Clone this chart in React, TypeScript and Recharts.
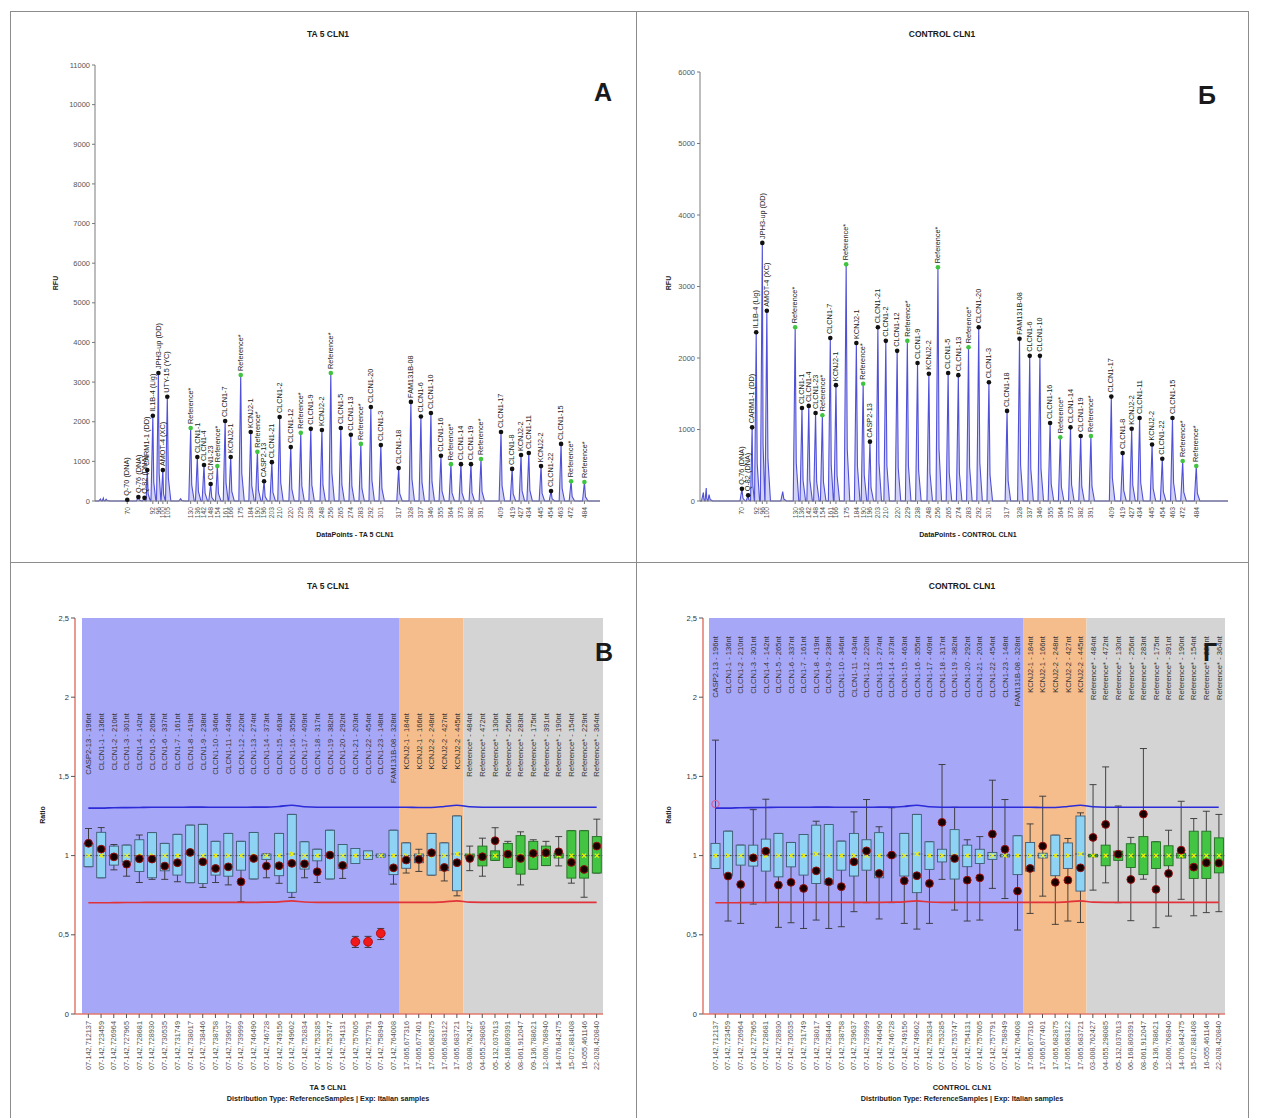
import React from 'react';
import { ComposedChart, Area, Scatter, Bar, Line, XAxis, YAxis, ReferenceArea } from 'recharts';

const FONT = '"Liberation Sans", Arial, Helvetica, sans-serif';

// ---------- electropherograms (top row) ----------
const probeSizes = [130, 136, 142, 148, 154, 161, 166, 175, 184, 190, 196, 203, 210, 220, 229, 238, 248, 256, 265, 274, 283, 292, 301, 317, 328, 337, 346, 355, 364, 373, 382, 391, 409, 419, 427, 434, 445, 454, 463, 472, 484];
const probeNames = ['Reference*', 'CLCN1-1', 'CLCN1-4', 'CLCN1-23', 'Reference*', 'CLCN1-7', 'KCNJ2-1', 'Reference*', 'KCNJ2-1', 'Reference*', 'CASP2-13', 'CLCN1-21', 'CLCN1-2', 'CLCN1-12', 'Reference*', 'CLCN1-9', 'KCNJ2-2', 'Reference*', 'CLCN1-5', 'CLCN1-13', 'Reference*', 'CLCN1-20', 'CLCN1-3', 'CLCN1-18', 'FAM131B-08', 'CLCN1-6', 'CLCN1-10', 'CLCN1-16', 'Reference*', 'CLCN1-14', 'CLCN1-19', 'Reference*', 'CLCN1-17', 'CLCN1-8', 'KCNJ2-2', 'CLCN1-11', 'KCNJ2-2', 'CLCN1-22', 'CLCN1-15', 'Reference*', 'Reference*'];
const taRfu = [1840, 1110, 910, 430, 880, 2020, 1110, 3180, 1740, 1240, 500, 980, 2120, 1360, 1720, 1820, 1790, 3230, 1840, 1670, 1440, 2370, 1410, 830, 2500, 2130, 2220, 1140, 930, 930, 930, 1060, 1740, 810, 1160, 1210, 880, 250, 1440, 500, 480];
const ctRfu = [2430, 1300, 1330, 1230, 1200, 2280, 1620, 3310, 2210, 1640, 830, 2430, 2240, 2100, 2240, 1930, 1780, 3270, 1790, 1760, 2150, 2430, 1660, 1260, 2270, 2030, 2030, 1090, 890, 1030, 910, 910, 1460, 670, 1010, 1160, 790, 590, 1160, 560, 490];

// control fragments at the start of the run
const taEarlyNames = ['Q-70 (DNA)', 'Q-76 (DNA)', 'Q-82 (DNA)', 'CARM1-1 (DD)', 'IL1B-4 (Lig)', 'JPH3-up (DD)', 'AMOT-4 (XC)', 'UTY-15 (YC)'];
const taEarlyPos = [73, 83, 88.5, 91, 96, 101, 105, 109];
const taEarlyRfu = [30, 100, 80, 780, 2150, 3230, 780, 2630];
const taEarlyTicks = ['70', '', '', '', '92', '96', '100', '105'];
const ctEarlyNames = ['Q-76 (DNA)', 'Q-82 (DNA)', 'CARM1-1 (DD)', 'IL1B-4 (Lig)', 'JPH3-up (DD)', 'AMOT-4 (XC)'];
const ctEarlyPos = [83, 88.5, 92, 95.6, 101, 105];
const ctEarlyRfu = [170, 80, 1030, 2360, 3610, 2660];
const ctEarlyTicks = ['70', '', '', '92', '96', '100'];

// small unlabeled bumps
const taNoisePos = [49, 51.5, 54, 121];
const taNoiseRfu = [50, 70, 45, 60];
const ctNoisePos = [49, 51.5, 54, 119];
const ctNoiseRfu = [120, 180, 90, 130];

const taYTicks = [0, 1000, 2000, 3000, 4000, 5000, 6000, 7000, 8000, 9000, 10000, 11000];
const ctYTicks = [0, 1000, 2000, 3000, 4000, 5000, 6000];

type Peak = { x: number; y: number; label: string; tick: string };

const makePeaks = (names: string[], pos: number[], rfu: number[], ticks: string[]): Peak[] =>
  names.map((label, i) => ({ x: pos[i], y: rfu[i], label, tick: ticks[i] }));

function buildTrace(peaks: { x: number; y: number }[], domain: [number, number]) {
  const s = [...peaks].sort((a, b) => a.x - b.x);
  const pts = [{ x: domain[0], y: 0 }];
  s.forEach((p, i) => {
    const prev = i > 0 ? s[i - 1].x : -1e9;
    const next = i < s.length - 1 ? s[i + 1].x : 1e9;
    const l = Math.min(1.7, (p.x - prev) * 0.4);
    const r = Math.min(3.2, (next - p.x) * 0.55);
    pts.push({ x: p.x - l, y: 0 }, { x: p.x, y: p.y }, { x: p.x + r * 0.3, y: p.y * 0.22 }, { x: p.x + r, y: 0 });
  });
  pts.push({ x: domain[1], y: 0 });
  return pts;
}

const PeakMark = (props: any) => {
  const { cx, cy, payload } = props;
  const isRef = String(payload.label).startsWith('Reference');
  const tx = cx + 2.2;
  const ty = cy - 4;
  return (
    <g>
      <circle cx={cx} cy={cy} r={2.3} fill={isRef ? '#3fc43f' : '#111'} />
      <text x={tx} y={ty} transform={`rotate(-90 ${tx} ${ty})`} fontSize={7.3} fill="#222" fontFamily={FONT}>
        {payload.label}
      </text>
    </g>
  );
};

function Electro(props: {
  width: number; height: number; margin: any; domain: [number, number]; yMax: number; yTicks: number[];
  peaks: Peak[]; noise: { x: number; y: number }[];
}) {
  const { width, height, margin, domain, yMax, yTicks, peaks, noise } = props;
  const trace = buildTrace([...peaks, ...noise], domain);
  const tickPeaks = peaks.filter((p) => p.tick !== '');
  const tickText: Record<string, string> = {};
  tickPeaks.forEach((p) => { tickText[String(p.x)] = p.tick; });
  const SizeTick = (tp: any) => {
    const tx = tp.x + 2.4;
    const ty = tp.y + 1;
    return (
      <text x={tx} y={ty} transform={`rotate(-90 ${tx} ${ty})`} textAnchor="end" fontSize={6.8} fill="#555" fontFamily={FONT}>
        {tickText[String(tp.payload.value)]}
      </text>
    );
  };
  return (
    <ComposedChart width={width} height={height} margin={margin}>
      <XAxis type="number" dataKey="x" domain={domain} allowDataOverflow ticks={tickPeaks.map((p) => p.x)} interval={0}
        tick={<SizeTick />} height={25} tickSize={3} stroke="#7a7a7a" />
      <YAxis type="number" domain={[0, yMax]} ticks={yTicks} interval={0} width={40} tickSize={3} stroke="#7a7a7a"
        tick={{ fontSize: 7.5, fill: '#555', fontFamily: FONT }} />
      <Area data={trace} dataKey="y" type="linear" stroke="#5050d8" strokeWidth={1.1} fill="#b4b4f0" fillOpacity={0.6}
        dot={false} activeDot={false} isAnimationActive={false} />
      <Scatter data={peaks} dataKey="y" shape={<PeakMark />} isAnimationActive={false} />
    </ComposedChart>
  );
}

// ---------- ratio plots (bottom row) ----------
const ratioCats = ['CASP2-13 - 196nt', 'CLCN1-1 - 136nt', 'CLCN1-2 - 210nt', 'CLCN1-3 - 301nt', 'CLCN1-4 - 142nt', 'CLCN1-5 - 265nt', 'CLCN1-6 - 337nt', 'CLCN1-7 - 161nt', 'CLCN1-8 - 419nt', 'CLCN1-9 - 238nt', 'CLCN1-10 - 346nt', 'CLCN1-11 - 434nt', 'CLCN1-12 - 220nt', 'CLCN1-13 - 274nt', 'CLCN1-14 - 373nt', 'CLCN1-15 - 463nt', 'CLCN1-16 - 355nt', 'CLCN1-17 - 409nt', 'CLCN1-18 - 317nt', 'CLCN1-19 - 382nt', 'CLCN1-20 - 292nt', 'CLCN1-21 - 203nt', 'CLCN1-22 - 454nt', 'CLCN1-23 - 148nt', 'FAM131B-08 - 328nt', 'KCNJ2-1 - 184nt', 'KCNJ2-1 - 166nt', 'KCNJ2-2 - 248nt', 'KCNJ2-2 - 427nt', 'KCNJ2-2 - 445nt', 'Reference* - 484nt', 'Reference* - 472nt', 'Reference* - 130nt', 'Reference* - 256nt', 'Reference* - 283nt', 'Reference* - 175nt', 'Reference* - 391nt', 'Reference* - 190nt', 'Reference* - 154nt', 'Reference* - 229nt', 'Reference* - 364nt'];
const genomicPos = ['07-142,712137', '07-142,723459', '07-142,726964', '07-142,727965', '07-142,728681', '07-142,728930', '07-142,730535', '07-142,731749', '07-142,738017', '07-142,738446', '07-142,738758', '07-142,739637', '07-142,739999', '07-142,746490', '07-142,746728', '07-142,749156', '07-142,749602', '07-142,752834', '07-142,753285', '07-142,753747', '07-142,754131', '07-142,757605', '07-142,757791', '07-142,758949', '07-142,764008', '17-065,677316', '17-065,677401', '17-065,682875', '17-065,683122', '17-065,683721', '03-008,762427', '04-055,298085', '05-132,037613', '06-168,809391', '08-061,912047', '09-136,788621', '12-006,768940', '14-076,842475', '15-072,881408', '16-055,461146', '22-028,420840'];

const limitUpper = [1.3, 1.3, 1.302, 1.303, 1.304, 1.305, 1.305, 1.305, 1.306, 1.306, 1.305, 1.305, 1.305, 1.306, 1.306, 1.31, 1.318, 1.308, 1.305, 1.305, 1.305, 1.305, 1.305, 1.305, 1.305, 1.305, 1.304, 1.304, 1.31, 1.318, 1.308, 1.305, 1.305, 1.305, 1.305, 1.305, 1.305, 1.305, 1.305, 1.305, 1.305];
const limitLower = [0.702, 0.702, 0.703, 0.704, 0.704, 0.705, 0.705, 0.705, 0.705, 0.705, 0.705, 0.705, 0.705, 0.705, 0.706, 0.708, 0.714, 0.707, 0.705, 0.705, 0.705, 0.705, 0.705, 0.705, 0.705, 0.705, 0.705, 0.705, 0.708, 0.714, 0.706, 0.705, 0.705, 0.705, 0.705, 0.705, 0.705, 0.705, 0.705, 0.705, 0.705];

// TA 5 CLN1
const taBoxHigh = [1.077, 1.147, 1.06, 1.066, 1.1, 1.145, 1.077, 1.134, 1.192, 1.197, 1.09, 1.14, 1.09, 1.146, 1.01, 1.14, 1.26, 1.087, 1.04, 1.16, 1.07, 1.045, 1.03, 1.01, 1.16, 1.08, 1.01, 1.14, 1.08, 1.25, 1.01, 1.06, 1.03, 1.077, 1.126, 1.09, 1.06, 1.015, 1.157, 1.157, 1.12];
const taBoxLow = [0.93, 0.86, 0.94, 0.96, 0.9, 0.86, 0.904, 0.877, 0.829, 0.824, 0.877, 0.87, 0.908, 0.853, 0.976, 0.873, 0.768, 0.915, 0.967, 0.853, 0.92, 0.95, 0.976, 0.99, 0.88, 0.92, 0.955, 0.877, 0.905, 0.778, 0.99, 0.935, 0.97, 0.925, 0.883, 0.914, 0.937, 0.985, 0.858, 0.858, 0.89];
const taWhiskHigh = [1.171, 1.177, 1.07, 1.066, 1.13, 1.145, 1.077, 1.134, 1.192, 1.197, 1.09, 1.14, 1.09, 1.146, 1.01, 1.14, 1.26, 1.087, 1.04, 1.16, 1.07, 0.49, 0.49, 0.54, 1.16, 1.08, 1.04, 1.14, 1.08, 1.25, 1.06, 1.11, 1.176, 1.09, 1.15, 1.1, 1.09, 1.12, 1.157, 1.157, 1.23];
const taWhiskLow = [0.93, 0.86, 0.91, 0.87, 0.83, 0.85, 0.85, 0.835, 0.829, 0.799, 0.83, 0.815, 0.709, 0.853, 0.86, 0.825, 0.736, 0.86, 0.83, 0.853, 0.856, 0.42, 0.42, 0.47, 0.82, 0.89, 0.9, 0.877, 0.84, 0.746, 0.905, 0.87, 0.97, 0.925, 0.815, 0.914, 0.937, 0.935, 0.826, 0.737, 0.89];
const taSample = [1.078, 1.041, 0.992, 0.946, 0.98, 0.978, 0.934, 0.955, 1.02, 0.961, 0.919, 0.929, 0.835, 0.982, 0.934, 0.936, 0.951, 0.948, 0.898, 1.003, 0.938, 0.456, 0.456, 0.509, 0.923, 0.972, 0.976, 1.018, 0.925, 0.955, 0.982, 0.993, 1.094, 1.009, 0.982, 1.014, 1.018, 1.024, 0.957, 0.913, 1.06];
const taMedian = [1, 1, 1, 1, 1, 1, 1, 1, 1.01, 1, 1, 1, 1, 1, 1, 1, 1.01, 1, 1, 1, 1, 1, 1, 1, 1, 1, 1, 1, 1, 1.01, 1, 1, 1, 1, 1, 1, 1, 1, 1, 1, 1];

// CONTROL CLN1
const ctBoxHigh = [1.077, 1.154, 1.066, 1.066, 1.104, 1.14, 1.083, 1.133, 1.192, 1.196, 1.091, 1.14, 1.1, 1.145, 1.008, 1.14, 1.26, 1.087, 1.04, 1.164, 1.066, 1.04, 1.02, 1.008, 1.125, 1.083, 1.015, 1.129, 1.08, 1.25, 1.008, 1.066, 1.028, 1.075, 1.12, 1.087, 1.062, 1.015, 1.154, 1.154, 1.112];
const ctBoxLow = [0.919, 0.877, 0.94, 0.934, 0.902, 0.866, 0.929, 0.877, 0.824, 0.82, 0.908, 0.871, 0.908, 0.86, 0.992, 0.871, 0.766, 0.913, 0.96, 0.852, 0.93, 0.95, 0.976, 0.992, 0.88, 0.902, 0.985, 0.873, 0.919, 0.776, 0.992, 0.936, 0.97, 0.925, 0.88, 0.919, 0.936, 0.985, 0.856, 0.856, 0.891];
const ctWhiskHigh = [1.729, 1.154, 1.066, 1.29, 1.356, 1.14, 1.083, 1.133, 1.217, 1.196, 1.091, 1.276, 1.354, 1.182, 1.302, 1.14, 1.26, 1.087, 1.575, 1.305, 1.1, 1.12, 1.476, 1.354, 1.125, 1.2, 1.375, 1.129, 1.108, 1.27, 1.448, 1.56, 1.313, 1.115, 1.676, 1.087, 1.16, 1.343, 1.234, 1.28, 1.26];
const ctWhiskLow = [0.919, 0.587, 0.572, 0.694, 0.703, 0.547, 0.576, 0.54, 0.593, 0.54, 0.551, 0.646, 0.703, 0.6, 0.703, 0.572, 0.536, 0.572, 0.85, 0.656, 0.587, 0.593, 0.793, 0.729, 0.53, 0.635, 0.744, 0.566, 0.587, 0.578, 0.782, 0.828, 0.703, 0.589, 0.851, 0.545, 0.618, 0.724, 0.62, 0.64, 0.646];
const ctSample = [1.325, 0.871, 0.818, 0.986, 1.028, 0.814, 0.831, 0.793, 0.904, 0.835, 0.804, 0.961, 1.03, 0.887, 1.003, 0.841, 0.873, 0.824, 1.21, 0.982, 0.845, 0.86, 1.136, 1.04, 0.776, 0.919, 1.06, 0.831, 0.845, 0.923, 1.115, 1.197, 1.009, 0.849, 1.262, 0.787, 0.887, 1.034, 0.927, 0.955, 0.953];
const ctMedian = [1, 1, 1, 1, 1, 1, 1, 1, 1.01, 1, 1, 1, 1, 1, 1, 1, 1.01, 1, 1, 1, 1, 1, 1, 1, 1, 1, 1, 1, 1, 1.01, 1, 1, 1, 1, 1, 1, 1, 1, 1, 1, 1];

const ratioTicks = [0, 0.5, 1, 1.5, 2, 2.5];

const makeRows = (bh: number[], bl: number[], wh: number[], wl: number[], s: number[], m: number[]) =>
  ratioCats.map((name, i) => ({
    pos: genomicPos[i],
    name,
    region: name.startsWith('Reference') ? 2 : name.startsWith('KCNJ2') ? 1 : 0,
    boxHigh: bh[i], boxLow: bl[i], wHigh: wh[i], wLow: wl[i], sample: s[i], median: m[i],
    upper: limitUpper[i], lower: limitLower[i],
    span: [Math.min(bl[i], wl[i], s[i]), Math.max(bh[i], wh[i], s[i])],
  }));

const taRows = makeRows(taBoxHigh, taBoxLow, taWhiskHigh, taWhiskLow, taSample, taMedian);
const ctRows = makeRows(ctBoxHigh, ctBoxLow, ctWhiskHigh, ctWhiskLow, ctSample, ctMedian);

const makeBoxShape = (labelTop: number) => (props: any) => {
  const { x, y, width, height, payload } = props;
  if (!payload) return null;
  const [lo, hi] = payload.span;
  const py = (v: number) => y + ((hi - v) / (hi - lo)) * height;
  const cx = x + width / 2;
  const green = payload.region === 2;
  const fill = green ? '#43c443' : '#8fd3f4';
  const stroke = green ? '#236d23' : '#3e5b72';
  const yb1 = py(payload.boxHigh);
  const yb2 = py(payload.boxLow);
  const ym = py(payload.median);
  const ys = py(payload.sample);
  const yw1 = py(payload.wHigh);
  const yw2 = py(payload.wLow);
  const lt = py(labelTop);
  const lx = cx + 2.7;
  const high = payload.sample > payload.upper;
  const low = payload.sample < payload.lower;
  return (
    <g>
      <text x={lx} y={lt} transform={`rotate(-90 ${lx} ${lt})`} textAnchor="end" fontSize={7.6} fill="#333" fontFamily={FONT}>
        {payload.name}
      </text>
      <line x1={cx} x2={cx} y1={yw1} y2={yw2} stroke="#333" strokeWidth={0.9} />
      <line x1={cx - 3.5} x2={cx + 3.5} y1={yw1} y2={yw1} stroke="#333" strokeWidth={0.9} />
      <line x1={cx - 3.5} x2={cx + 3.5} y1={yw2} y2={yw2} stroke="#333" strokeWidth={0.9} />
      <rect x={x} y={yb1} width={width} height={Math.max(yb2 - yb1, 1.5)} fill={fill} stroke={stroke} strokeWidth={0.9} />
      <line x1={x - 1} x2={x + width + 1} y1={ym} y2={ym} stroke="#4a4a4a" strokeWidth={1} strokeDasharray="2 1.5" />
      <line x1={cx - 2} x2={cx + 2} y1={ym - 2} y2={ym + 2} stroke="#f4f000" strokeWidth={1.3} />
      <line x1={cx - 2} x2={cx + 2} y1={ym + 2} y2={ym - 2} stroke="#f4f000" strokeWidth={1.3} />
      {high ? (
        <circle cx={cx} cy={ys} r={3.6} fill="none" stroke="#d0609a" strokeWidth={1.2} />
      ) : low ? (
        <circle cx={cx} cy={ys} r={4.4} fill="#f01818" stroke="#b00000" strokeWidth={0.8} />
      ) : (
        <circle cx={cx} cy={ys} r={3.9} fill="#160202" stroke="#9a1010" strokeWidth={1} />
      )}
    </g>
  );
};

const PosTick = (tp: any) => {
  const tx = tp.x + 2.6;
  const ty = tp.y + 1;
  return (
    <text x={tx} y={ty} transform={`rotate(-90 ${tx} ${ty})`} textAnchor="end" fontSize={7.3} fill="#555" fontFamily={FONT}>
      {tp.payload.value}
    </text>
  );
};

function RatioPlot(props: { rows: any[]; width: number; height: number; margin: any; padLeft: number; labelTop: number }) {
  const { rows, width, height, margin, padLeft, labelTop } = props;
  const iOrange = rows.findIndex((r) => r.region === 1);
  const iGrey = rows.findIndex((r) => r.region === 2);
  return (
    <ComposedChart width={width} height={height} data={rows} margin={margin}>
      <XAxis dataKey="pos" type="category" interval={0} tick={<PosTick />} height={70} padding={{ left: padLeft, right: 0 }}
        axisLine={{ stroke: '#e27a6e', strokeWidth: 1.5 }} tickLine={{ stroke: '#555' }} tickSize={4} />
      <YAxis type="number" domain={[0, 2.5]} ticks={ratioTicks} interval={0} width={40} tickSize={4}
        tickFormatter={(v: number) => String(v).replace('.', ',')}
        axisLine={{ stroke: '#e27a6e', strokeWidth: 1.5 }} tickLine={{ stroke: '#555' }}
        tick={{ fontSize: 7.5, fill: '#333', fontFamily: FONT }} />
      <ReferenceArea x1={rows[0].pos} x2={rows[iOrange - 1].pos} y1={0} y2={2.5} fill="#a7a7f8" fillOpacity={1} stroke="none" ifOverflow="extendDomain" />
      <ReferenceArea x1={rows[iOrange].pos} x2={rows[iGrey - 1].pos} y1={0} y2={2.5} fill="#f6bd8c" fillOpacity={1} stroke="none" ifOverflow="extendDomain" />
      <ReferenceArea x1={rows[iGrey].pos} x2={rows[rows.length - 1].pos} y1={0} y2={2.5} fill="#d4d4d4" fillOpacity={1} stroke="none" ifOverflow="extendDomain" />
      <Line dataKey="upper" type="monotone" stroke="#2b2bd8" strokeWidth={1.6} dot={false} activeDot={false} isAnimationActive={false} />
      <Line dataKey="lower" type="monotone" stroke="#e03238" strokeWidth={1.6} dot={false} activeDot={false} isAnimationActive={false} />
      <Bar dataKey="span" barSize={9} shape={makeBoxShape(labelTop)} isAnimationActive={false} />
    </ComposedChart>
  );
}

const Txt = (p: { x: number; y: number; size: number; bold?: boolean; rot?: boolean; children: React.ReactNode }) => (
  <div style={{
    position: 'absolute', left: p.x, top: p.y, transform: `translate(-50%, -50%)${p.rot ? ' rotate(-90deg)' : ''}`,
    fontSize: p.size, fontWeight: p.bold ? 700 : 400, whiteSpace: 'nowrap', color: '#1a1a1a', lineHeight: 1,
  }}>{p.children}</div>
);

const panelBox = (left: number, top: number, w: number, h: number): React.CSSProperties => ({
  position: 'absolute', left, top, width: w, height: h, border: '1px solid #8c8c8c', boxSizing: 'border-box',
});

export default function App() {
  const taPeaks = [
    ...makePeaks(taEarlyNames, taEarlyPos, taEarlyRfu, taEarlyTicks),
    ...makePeaks(probeNames, probeSizes, taRfu, probeSizes.map(String)),
  ];
  const ctPeaks = [
    ...makePeaks(ctEarlyNames, ctEarlyPos, ctEarlyRfu, ctEarlyTicks),
    ...makePeaks(probeNames, probeSizes, ctRfu, probeSizes.map(String)),
  ];
  const taNoise = taNoisePos.map((x, i) => ({ x, y: taNoiseRfu[i] }));
  const ctNoise = ctNoisePos.map((x, i) => ({ x, y: ctNoiseRfu[i] }));
  const note = 'Distribution Type: ReferenceSamples | Exp: Italian samples';
  return (
    <div style={{ position: 'absolute', left: 0, top: 0, width: 1262, height: 1118, background: '#fff', fontFamily: FONT, overflow: 'hidden' }}>
      <div style={panelBox(10, 11, 627, 552)}>
        <div style={{ position: 'absolute', left: -1, top: -1 }}>
          <Electro width={626} height={551} margin={{ top: 54, left: 45, right: 36, bottom: 36 }} domain={[44, 498]}
            yMax={11000} yTicks={taYTicks} peaks={taPeaks} noise={taNoise} />
        </div>
      </div>
      <div style={panelBox(636, 11, 613, 552)}>
        <div style={{ position: 'absolute', left: -1, top: -1 }}>
          <Electro width={612} height={551} margin={{ top: 61, left: 24, right: 20, bottom: 36 }} domain={[46, 512]}
            yMax={6000} yTicks={ctYTicks} peaks={ctPeaks} noise={ctNoise} />
        </div>
      </div>
      <div style={panelBox(10, 562, 627, 560)}>
        <div style={{ position: 'absolute', left: -1, top: -1 }}>
          <RatioPlot rows={taRows} width={626} height={556} margin={{ top: 56, left: 25, right: 33, bottom: 34 }} padLeft={7} labelTop={1.9} />
        </div>
      </div>
      <div style={panelBox(636, 562, 613, 560)}>
        <div style={{ position: 'absolute', left: -1, top: -1 }}>
          <RatioPlot rows={ctRows} width={612} height={556} margin={{ top: 56, left: 27, right: 23, bottom: 34 }} padLeft={6} labelTop={2.385} />
        </div>
      </div>

      <Txt x={328} y={34} size={8.5} bold>TA 5 CLN1</Txt>
      <Txt x={942} y={34} size={8.5} bold>CONTROL CLN1</Txt>
      <Txt x={55} y={283} size={7} bold rot>RFU</Txt>
      <Txt x={668} y={283} size={7} bold rot>RFU</Txt>
      <Txt x={355} y={534} size={7} bold>DataPoints - TA 5 CLN1</Txt>
      <Txt x={968} y={534} size={7} bold>DataPoints - CONTROL CLN1</Txt>
      <Txt x={603} y={92} size={25} bold>А</Txt>
      <Txt x={1207} y={95} size={25} bold>Б</Txt>

      <Txt x={328} y={586} size={8.5} bold>TA 5 CLN1</Txt>
      <Txt x={962} y={586} size={8.5} bold>CONTROL CLN1</Txt>
      <Txt x={42} y={815} size={7} bold rot>Ratio</Txt>
      <Txt x={668} y={815} size={7} bold rot>Ratio</Txt>
      <Txt x={604} y={652} size={25} bold>В</Txt>
      <Txt x={1210} y={652} size={25} bold>Г</Txt>
      <Txt x={328} y={1088} size={7.5} bold>TA 5 CLN1</Txt>
      <Txt x={328} y={1099} size={7.2} bold>{note}</Txt>
      <Txt x={962} y={1088} size={7.5} bold>CONTROL CLN1</Txt>
      <Txt x={962} y={1099} size={7.2} bold>{note}</Txt>
    </div>
  );
}
